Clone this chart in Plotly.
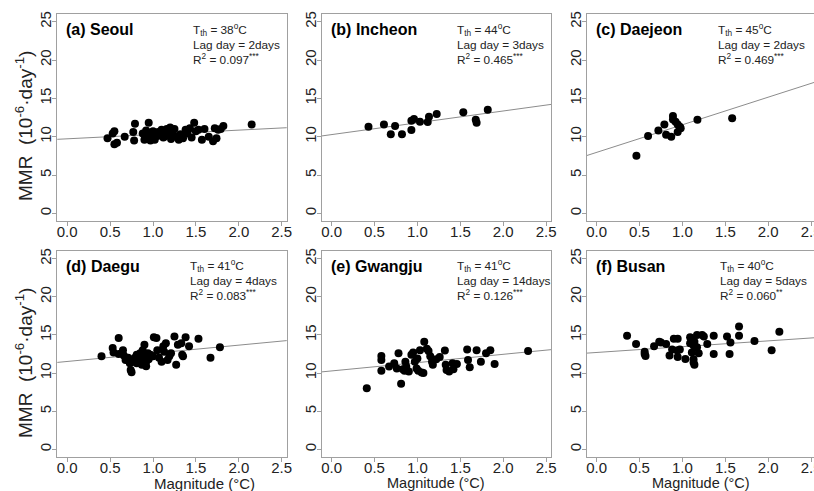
import plotly.graph_objects as go

W, H = 814, 491

cities = ["(a) Seoul", "(b) Incheon", "(c) Daejeon", "(d) Daegu", "(e) Gwangju", "(f) Busan"]
t_th = ["38", "44", "45", "41", "41", "40"]
lag_days = ["2", "3", "2", "4", "14", "5"]
r2 = ["0.097", "0.465", "0.469", "0.083", "0.126", "0.060"]
sig = ["***", "***", "***", "***", "***", "**"]
intercepts = [9.72, 10.27, 7.95, 11.52, 10.28, 12.7]
slopes = [0.566, 1.54, 3.6, 1.07, 1.09, 0.76]

seoul_x = [0.47, 0.53, 0.55, 0.55, 0.58, 0.67, 0.77, 0.79, 0.78, 0.88, 0.90, 0.92, 0.94, 0.95, 0.96,
           0.97, 0.99, 1.00, 1.02, 1.05, 1.08, 1.10, 1.12, 1.14, 1.16, 1.18, 1.20, 1.21, 1.23, 1.25,
           1.27, 1.30, 1.32, 1.35, 1.38, 1.40, 1.43, 1.45, 1.48, 1.50, 1.53, 1.57, 1.60, 1.65, 1.70,
           1.72, 1.74, 1.76, 1.79, 1.82, 2.15, 1.02, 1.13, 0.97, 0.91, 1.06, 1.19]
seoul_y = [9.8, 10.4, 10.7, 9.0, 9.2, 10.0, 10.6, 11.7, 9.5, 10.4, 9.6, 10.8, 10.2, 11.8, 9.8,
           10.5, 10.0, 10.7, 9.6, 10.1, 10.3, 10.9, 9.9, 10.5, 11.0, 10.2, 11.2, 9.7, 10.6, 11.0,
           10.0, 9.6, 10.3, 9.8, 10.9, 10.4, 11.1, 9.9, 11.8, 10.7, 10.9, 9.6, 11.0, 10.0, 9.4,
           11.1, 9.8, 10.9, 11.0, 11.4, 11.6, 10.4, 10.0, 9.5, 10.0, 10.6, 10.7]

incheon_x = [0.43, 0.61, 0.69, 0.74, 0.82, 0.93, 0.93, 0.96, 1.03, 1.12, 1.135, 1.225, 1.535, 1.68, 1.69, 1.82]
incheon_y = [11.3, 11.6, 10.3, 11.4, 10.3, 10.86, 12.07, 12.3, 11.95, 11.9, 12.6, 12.95, 13.2, 12.2, 11.8, 13.5]

daejeon_x = [0.464, 0.60, 0.72, 0.79, 0.81, 0.87, 0.89, 0.89, 0.92, 0.945, 0.97, 0.945, 0.98, 1.175, 1.58]
daejeon_y = [7.5, 10.1, 10.8, 11.6, 10.25, 10.0, 12.7, 12.25, 11.95, 11.6, 11.3, 10.6, 11.1, 12.2, 12.4]

daegu_x = [0.40, 0.53, 0.54, 0.60, 0.60, 0.65, 0.66, 0.68, 0.71, 0.73, 0.74, 0.75, 0.77, 0.79, 0.81,
           0.81, 0.83, 0.85, 0.86, 0.87, 0.88, 0.90, 0.91, 0.92, 0.92, 0.94, 0.95, 0.97, 1.00, 1.01,
           1.04, 1.05, 1.07, 1.10, 1.12, 1.13, 1.15, 1.17, 1.19, 1.21, 1.25, 1.27, 1.29, 1.33, 1.34,
           1.35, 1.38, 1.42, 1.53, 1.67, 1.78]
daegu_y = [12.2, 13.3, 12.7, 14.6, 12.5, 13.0, 12.3, 11.7, 12.0, 11.3, 10.4, 10.1, 11.5, 12.0, 12.4,
           11.3, 11.7, 12.6, 12.0, 11.1, 13.0, 13.7, 12.2, 11.5, 10.9, 12.6, 11.8, 12.4, 12.2, 14.7,
           14.6, 13.0, 12.0, 11.5, 13.5, 12.8, 13.9, 11.7, 12.2, 12.6, 14.8, 11.1, 13.7, 13.9, 12.4,
           12.2, 14.7, 13.5, 14.5, 12.0, 13.4]

gwangju_x = [0.41, 0.81, 0.58, 0.58, 0.58, 0.67, 0.73, 0.76, 0.78, 0.85, 0.86, 0.87, 0.93, 0.95, 0.97,
             0.99, 1.01, 1.03, 1.05, 1.08, 1.11, 1.13, 1.15, 1.17, 1.18, 1.26, 1.32, 1.33, 1.34, 1.41,
             1.42, 1.46, 1.58, 1.59, 1.61, 1.69, 1.74, 1.80, 1.85, 1.90, 2.29, 0.90, 1.00, 1.07, 1.22,
             1.37, 0.83]
gwangju_y = [8.0, 8.6, 12.25, 11.7, 10.3, 10.85, 11.3, 10.6, 12.6, 10.3, 11.5, 10.85, 12.4, 12.7, 11.5,
             10.6, 10.3, 13.0, 10.06, 14.1, 13.2, 12.9, 12.2, 11.5, 11.1, 12.1, 12.95, 11.1, 10.4, 11.3,
             10.5, 11.2, 13.1, 11.7, 10.75, 13.0, 11.5, 12.6, 13.0, 11.2, 12.9, 10.2, 11.9, 10.0, 11.8,
             10.2, 10.5]

busan_x = [0.355, 0.46, 0.56, 0.56, 0.57, 0.67, 0.73, 0.75, 0.81, 0.85, 0.88, 0.90, 0.945, 0.94, 0.945,
           0.97, 1.035, 1.09, 1.09, 1.11, 1.13, 1.13, 1.13, 1.14, 1.14, 1.17, 1.17, 1.19, 1.23, 1.25,
           1.29, 1.365, 1.365, 1.52, 1.56, 1.55, 1.66, 1.66, 1.84, 2.04, 2.13]
busan_y = [14.9, 13.8, 12.8, 12.5, 12.25, 13.5, 14.1, 14.0, 13.8, 12.3, 13.1, 14.5, 14.5, 12.95, 12.1,
           13.1, 11.85, 14.7, 13.9, 12.7, 13.6, 11.8, 11.4, 11.1, 14.1, 15.0, 13.4, 12.6, 15.0, 14.8,
           13.8, 14.9, 12.5, 14.8, 14.0, 12.5, 14.9, 16.1, 14.2, 13.0, 15.4]

xs = [seoul_x, incheon_x, daejeon_x, daegu_x, gwangju_x, busan_x]
ys = [seoul_y, incheon_y, daejeon_y, daegu_y, gwangju_y, busan_y]

x_ticks = [0.0, 0.5, 1.0, 1.5, 2.0, 2.5]
y_ticks = [0, 5, 10, 15, 20, 25]
line_x = [-0.3, 2.8]

FONT = "Liberation Sans, Arial, sans-serif"
FRAME = "#a0a0a0"
TXT = "#222222"

# pixel layout
col_left = [57.3, 321.7, 586.7]
panel_w = 229.4
row_top = [14, 251]
row_bot = [221, 457]
x_zero_off = 9.9          # pixel offset of x=0 from left border
px_per_x = 85.8

def px(x):
    return x / W

def py(y):
    return 1 - y / H

fig = go.Figure()
layout = dict(width=W, height=H, margin=dict(l=0, r=0, t=0, b=0, autoexpand=False),
              paper_bgcolor="white", plot_bgcolor="white", showlegend=False,
              font=dict(family=FONT, color=TXT))
annotations = []

for i in range(6):
    r, c = divmod(i, 3)
    n = i + 1
    xa = "x" if n == 1 else f"x{n}"
    ya = "y" if n == 1 else f"y{n}"
    left = col_left[c]
    right = min(left + panel_w, W)
    xr0 = -x_zero_off / px_per_x
    xr1 = (right - left - x_zero_off) / px_per_x

    fig.add_trace(go.Scatter(x=line_x, y=[intercepts[i] + slopes[i] * v for v in line_x],
                             mode="lines", line=dict(color="#8c8c8c", width=1),
                             xaxis=xa, yaxis=ya, hoverinfo="skip"))
    fig.add_trace(go.Scatter(x=xs[i], y=ys[i], mode="markers",
                             marker=dict(color="black", size=8, line=dict(width=0)),
                             xaxis=xa, yaxis=ya))

    key_x = "xaxis" if n == 1 else f"xaxis{n}"
    key_y = "yaxis" if n == 1 else f"yaxis{n}"
    layout[key_x] = dict(domain=[px(left), px(right)], range=[xr0, xr1], anchor=ya,
                         tickvals=x_ticks, tickformat=".1f", ticks="outside", ticklen=4,
                         tickcolor=FRAME, showline=True, linecolor=FRAME, linewidth=1,
                         mirror=True, showgrid=False, zeroline=False, ticklabelstandoff=-7,
                         ticklabeloverflow="allow",
                         tickfont=dict(size=15, color=TXT, family=FONT))
    layout[key_y] = dict(domain=[py(row_bot[r]), py(row_top[r])], range=[-1, 26], anchor=xa,
                         tickvals=y_ticks, tickangle=-90, ticks="outside", ticklen=4,
                         tickcolor=FRAME, showline=True, linecolor=FRAME, linewidth=1,
                         mirror=(c < 2), showgrid=False, zeroline=False, ticklabelstandoff=-5,
                         tickfont=dict(size=15, color=TXT, family=FONT))

    title_y = 30 + (236 if r == 1 else 0)
    annotations.append(dict(text=f"<b>{cities[i]}</b>", x=px(left + 7), y=py(title_y),
                            xref="paper", yref="paper", xanchor="left", yanchor="middle",
                            showarrow=False, font=dict(size=16, color="black", family=FONT)))
    stat_off = [134, 133, 129, 131, 133, 131][i]
    lines = [f"T<sub>th</sub> = {t_th[i]}<sup>o</sup>C",
             f"Lag day = {lag_days[i]}days",
             f"R<sup>2</sup> = {r2[i]}<sup>{sig[i]}</sup>"]
    for k, t in enumerate(lines):
        annotations.append(dict(text=t, x=px(left + stat_off), y=py(title_y + 14.7 * k),
                                xref="paper", yref="paper", xanchor="left", yanchor="middle",
                                showarrow=False, font=dict(size=11.8, color=TXT, family=FONT)))

# axis titles
for yc in [126, 363]:
    annotations.append(dict(text="MMR  (10<sup>-6</sup>·day<sup>-1</sup>)", x=px(24), y=py(yc),
                            xref="paper", yref="paper", xanchor="center", yanchor="middle",
                            textangle=-90, showarrow=False,
                            font=dict(size=19, color=TXT, family=FONT)))
for xc, fs in [(204, 15), (436, 14.5), (701, 14.5)]:
    annotations.append(dict(text="Magnitude (°C)", x=px(xc), y=py(483.3),
                            xref="paper", yref="paper", xanchor="center", yanchor="middle",
                            showarrow=False, font=dict(size=fs, color=TXT, family=FONT)))

layout["annotations"] = annotations
fig.update_layout(**layout)
fig.write_html("out.html", config={"displayModeBar": False},
               post_script="document.body.style.margin='0px';document.body.style.overflow='hidden';")
